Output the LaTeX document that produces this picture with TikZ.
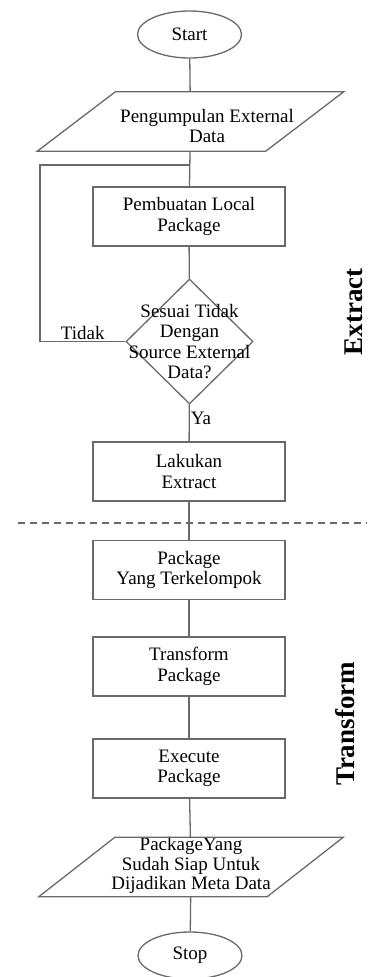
\documentclass[tikz,border=0pt]{standalone}
\usepackage{fontspec}
\setmainfont{Liberation Serif}
\usetikzlibrary{shapes.geometric}

\definecolor{edgegray}{RGB}{105,105,105}
\tikzset{
  flowfont/.style={font=\fontsize{19}{20.5}\selectfont, align=center},
  flowline/.style={draw=edgegray, line width=1.3pt},
  flowend/.style={ellipse, flowline, flowfont, minimum width=104pt, minimum height=47pt, inner sep=0pt},
  flowbox/.style={rectangle, flowline, flowfont, minimum width=192pt, minimum height=59pt, inner sep=0pt},
  flowio/.style={rectangle, minimum width=228pt, minimum height=59pt, inner sep=0pt},
  flowcheck/.style={diamond, flowline, minimum width=127pt, minimum height=125pt, inner sep=0pt},
  phase/.style={font=\fontsize{27}{27}\selectfont\bfseries, rotate=90}
}

\begin{document}
\begin{tikzpicture}[x=1pt, y=-1pt]
  \useasboundingbox (0, 0) rectangle (367, 977);
  % Place the flowchart steps.
  \node[flowend] (start) at (189.5, 34.5) {Start};
  \node[flowio] (collect) at (190.5, 121.5) {};
  \node[flowfont] (collecttext) at (207, 126) {Pengumpulan External\\Data};
  \node[flowbox] (local) at (189, 216.5) {Pembuatan Local\\Package};
  \node[flowcheck] (check) at (189.5, 341.5) {};
  \node[flowfont] (checktext) at (189.5, 341.5) {Sesuai Tidak\\Dengan\\Source External\\Data?};
  \node[flowbox] (extract) at (189, 471.5) {Lakukan\\Extract};
  \node[flowbox] (group) at (189, 570) {Package\\Yang Terkelompok};
  \node[flowbox] (transform) at (189, 666.5) {Transform\\Package};
  \node[flowbox] (execute) at (189, 768.5) {Execute\\Package};
  \node[flowio] (ready) at (191, 867) {};
  \node[flowfont, font=\fontsize{19}{19.5}\selectfont] (readytext) at (191, 865.5)
    {PackageYang\\Sudah Siap Untuk\\Dijadikan Meta Data};
  \node[flowend] (stop) at (190, 955.5) {Stop};
  % Draw the slanted data shapes.
  \draw[flowline] ([xshift=39pt]collect.north west) -- ([xshift=39pt]collect.north east)
    -- ([xshift=-39pt]collect.south east) -- ([xshift=-39pt]collect.south west) -- cycle;
  \draw[flowline] ([xshift=38pt]ready.north west) -- ([xshift=38pt]ready.north east)
    -- ([xshift=-38pt]ready.south east) -- ([xshift=-38pt]ready.south west) -- cycle;
  % Connect the steps.
  \coordinate (back) at (40, 165);
  \draw[flowline] (start) -- (collect);
  \draw[flowline] (collect) -- (local);
  \draw[flowline] (local) -- (check);
  \draw[flowline] (check.west) -- node[flowfont, above, inner sep=1pt] {Tidak} (check.west -| back)
    -- (back) -- (back -| local);
  \draw[flowline] (check) -- node[flowfont, pos=0.38, right, inner sep=1pt] {Ya} (extract);
  \draw[flowline] (extract) -- (group);
  \draw[flowline] (group) -- (transform);
  \draw[flowline] (transform) -- (execute);
  \draw[flowline] (execute) -- (ready);
  \draw[flowline] (ready) -- (stop);
  % Split the two phases.
  \draw[flowline, dashed, dash pattern=on 7pt off 5pt] (18, 523) -- (367, 523);
  \node[phase] (phaseextract) at (354, 312) {Extract};
  \node[phase] (phasetransform) at (345, 724) {Transform};
\end{tikzpicture}
\end{document}
